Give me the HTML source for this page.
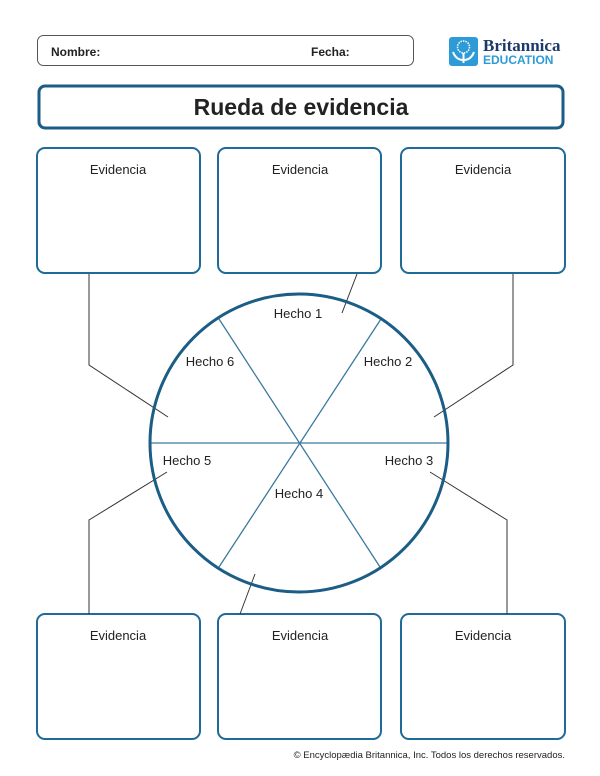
<!DOCTYPE html>
<html><head><meta charset="utf-8"><style>
html,body{margin:0;padding:0;background:#fff;}
svg{display:block;}
text{font-family:"Liberation Sans",sans-serif;}
</style></head><body>
<svg width="600" height="776" viewBox="0 0 600 776" xmlns="http://www.w3.org/2000/svg">
<rect width="600" height="776" fill="#fff"/>
<rect x="37.5" y="35.5" width="376" height="30" rx="6" fill="#fff" stroke="#555" stroke-width="1"/>
<text x="51" y="56" font-size="12" font-weight="bold" fill="#222">Nombre:</text>
<text x="311" y="56" font-size="12" font-weight="bold" fill="#222">Fecha:</text>
<rect x="449" y="37" width="29" height="29" rx="3" fill="#2f9bd6"/>
<circle cx="463.5" cy="47" r="6" fill="none" stroke="#fff" stroke-width="1.5" stroke-dasharray="1.5 1"/>
<path d="M463.5 53 V63 M463.5 60 Q456 60 453 52 M463.5 60 Q471 60 474 52" stroke="#fff" stroke-width="2" fill="none"/>
<text x="483" y="51" font-size="17" font-weight="bold" fill="#1b3a6b" style="font-family:'Liberation Serif',serif">Britannica</text>
<text x="483" y="64" font-size="12" font-weight="bold" fill="#2f9bd6">EDUCATION</text>
<rect x="39" y="86" width="524" height="42" rx="6" fill="#fff" stroke="#1b5d85" stroke-width="3"/>
<text x="301" y="115" font-size="23" font-weight="bold" fill="#222" text-anchor="middle">Rueda de evidencia</text>
<g fill="#fff" stroke="#1f6a96" stroke-width="2">
<rect x="37" y="148" width="163" height="125" rx="8"/>
<rect x="218" y="148" width="163" height="125" rx="8"/>
<rect x="401" y="148" width="164" height="125" rx="8"/>
<rect x="37" y="614" width="163" height="125" rx="8"/>
<rect x="218" y="614" width="163" height="125" rx="8"/>
<rect x="401" y="614" width="164" height="125" rx="8"/>
</g>
<g font-size="13" fill="#222" text-anchor="middle">
<text x="118" y="174">Evidencia</text>
<text x="300" y="174">Evidencia</text>
<text x="483" y="174">Evidencia</text>
<text x="118" y="640">Evidencia</text>
<text x="300" y="640">Evidencia</text>
<text x="483" y="640">Evidencia</text>
</g>
<g stroke="#333" stroke-width="1" fill="none">
<polyline points="89,274 89,365 168,417"/>
<line x1="357" y1="274" x2="342" y2="313"/>
<polyline points="513,274 513,365 434,417"/>
<polyline points="167,472 89,520 89,614"/>
<line x1="255" y1="574" x2="240" y2="614"/>
<polyline points="430,472 507,520 507,614"/>
</g>
<g stroke="#3c7a9e" stroke-width="1.3">
<line x1="150" y1="443" x2="448" y2="443"/>
<line x1="219" y1="319" x2="380" y2="567"/>
<line x1="381" y1="319" x2="219" y2="567"/>
</g>
<circle cx="299" cy="443" r="149" fill="none" stroke="#1b5d85" stroke-width="3"/>
<g font-size="13" fill="#222" text-anchor="middle">
<text x="298" y="318">Hecho 1</text>
<text x="388" y="366">Hecho 2</text>
<text x="409" y="465">Hecho 3</text>
<text x="299" y="498">Hecho 4</text>
<text x="187" y="465">Hecho 5</text>
<text x="210" y="366">Hecho 6</text>
</g>
<text x="565" y="758" font-size="9.5" fill="#222" text-anchor="end">© Encyclopædia Britannica, Inc. Todos los derechos reservados.</text>
</svg>
</body></html>
